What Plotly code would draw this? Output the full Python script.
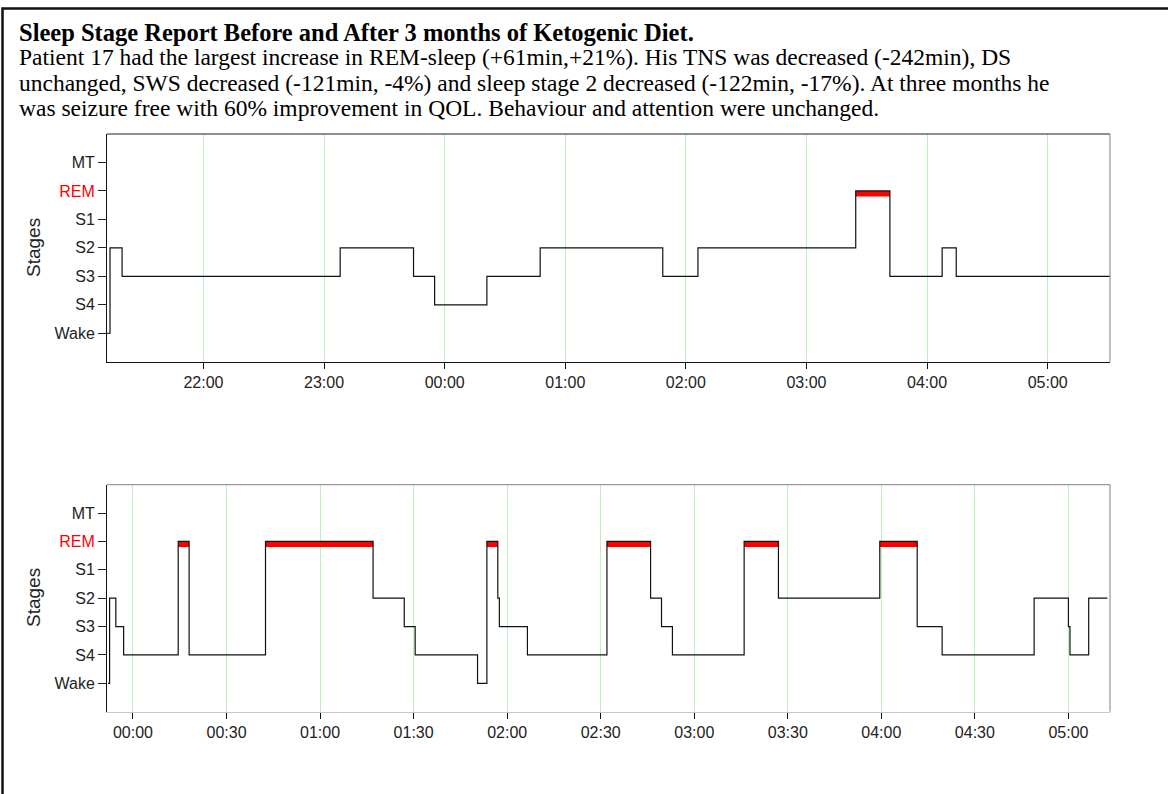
import plotly.graph_objects as go

# ---------------- data ----------------
stage_names = ["Wake", "S4", "S3", "S2", "S1", "REM", "MT"]

before_times = ["21:12:00", "21:13:30", "21:19:30", "23:08:00", "23:44:30", "23:55:00",
                "00:21:00", "00:47:30", "01:48:30", "02:06:00", "03:24:30", "03:41:30",
                "04:07:30", "04:14:30"]
before_stages = ["Wake", "S2", "S3", "S2", "S3", "S4",
                 "S3", "S2", "S3", "S2", "REM", "S3",
                 "S2", "S3"]
before_end = "05:31:00"
before_range = ["21:12:00", "05:31:00"]
before_ticks = ["22:00", "23:00", "00:00", "01:00", "02:00", "03:00", "04:00", "05:00"]

after_times = ["23:52:00", "23:52:30", "23:54:30", "23:57:00", "00:14:30", "00:18:00",
               "00:42:30", "01:17:00", "01:27:00", "01:30:30", "01:50:30", "01:53:30",
               "01:57:00", "01:57:30", "02:06:30", "02:32:00", "02:46:00", "02:49:30",
               "02:53:00", "03:16:00", "03:27:00", "03:59:30", "04:11:30", "04:19:30",
               "04:49:00", "05:00:00", "05:00:30", "05:06:30"]
after_stages = ["Wake", "S2", "S3", "S4", "REM", "S4",
                "REM", "S2", "S3", "S4", "Wake", "REM",
                "S2", "S3", "S4", "REM", "S2", "S3",
                "S4", "REM", "S2", "REM", "S3", "S4",
                "S2", "S3", "S4", "S2"]
after_end = "05:12:30"
after_range = ["23:51:40", "05:13:20"]
after_ticks = ["00:00", "00:30", "01:00", "01:30", "02:00", "02:30", "03:00",
               "03:30", "04:00", "04:30", "05:00"]

title_lines = [
    "<b>Sleep Stage Report Before and After 3 months of Ketogenic Diet.</b>",
    "Patient 17 had the largest increase in REM-sleep (+61min,+21%). His TNS was decreased (-242min), DS",
    "unchanged, SWS decreased (-121min, -4%) and sleep stage 2 decreased (-122min, -17%). At three months he",
    "was seizure free with 60% improvement in QOL. Behaviour and attention were unchanged.",
]


# ---------------- helpers ----------------
def ts(t):
    day = "2000-01-01" if int(t[:2]) >= 12 else "2000-01-02"
    return f"{day} {t}"


stage_val = {s: i for i, s in enumerate(stage_names)}

W, H = 1168, 794
fig = go.Figure()


def add_hypno(times, stages, end, xa, ya):
    xs = [ts(t) for t in times] + [ts(end)]
    ys = [stage_val[s] for s in stages] + [stage_val[stages[-1]]]
    # REM bars
    rx, ry = [], []
    for i, s in enumerate(stages):
        if s == "REM":
            rx += [xs[i], xs[i + 1], None]
            ry += [stage_val["REM"] - 0.1, stage_val["REM"] - 0.1, None]
    fig.add_trace(go.Scatter(x=rx, y=ry, mode="lines", xaxis=xa, yaxis=ya,
                             line=dict(color="#ff0000", width=5.5), showlegend=False,
                             hoverinfo="skip"))
    fig.add_trace(go.Scatter(x=xs, y=ys, mode="lines", xaxis=xa, yaxis=ya,
                             line=dict(color="#111111", width=1.2, shape="hv"),
                             showlegend=False))


add_hypno(before_times, before_stages, before_end, "x", "y")
add_hypno(after_times, after_stages, after_end, "x2", "y2")

ticktext_y = [('<span style="color:#ff0000">%s</span>' % s) if s == "REM" else s
              for s in stage_names]
tick_font = dict(family="Liberation Sans, Arial", size=16, color="#222222")


def xaxis(rng, ticks, linecolor):
    return dict(
        type="date", range=[ts(rng[0]), ts(rng[1])], domain=[107 / W, 1110 / W],
        tickvals=[ts(t) for t in ticks], ticktext=ticks,
        showgrid=True, gridcolor="rgb(190,240,190)", gridwidth=1,
        showline=True, linecolor=linecolor, linewidth=1,
        ticks="outside", ticklen=6, tickcolor="#111111",
        tickfont=tick_font, zeroline=False,
    )


def yaxis(anchor, dom):
    return dict(
        range=[-1, 7], domain=dom, anchor=anchor,
        tickvals=list(range(len(stage_names))), ticktext=ticktext_y,
        showgrid=False, zeroline=False, showline=True, linecolor="#111111", linewidth=1,
        ticks="outside", ticklen=8, tickcolor="#222222", tickfont=tick_font,
    )


top_dom = [1 - 361.7 / H, 1 - 134 / H]
bot_dom = [1 - 711.7 / H, 1 - 484.7 / H]

fig.update_layout(
    width=W, height=H, margin=dict(l=0, r=0, t=0, b=0),
    paper_bgcolor="white", plot_bgcolor="white",
    xaxis=dict(**xaxis(before_range, before_ticks, "#111111"), anchor="y"),
    yaxis=yaxis("x", top_dom),
    xaxis2=dict(**xaxis(after_range, after_ticks, "#c8c8c8"), anchor="y2"),
    yaxis2=yaxis("x2", bot_dom),
)

shapes = [
    # outer frame
    dict(type="rect", xref="paper", yref="paper", x0=2.5 / W, x1=1.02, y0=-0.02,
         y1=1 - 8.5 / H, line=dict(color="#111111", width=2.5), layer="below"),
    # top plot: top and right border
    dict(type="line", xref="x domain", yref="y domain", x0=0, x1=1, y0=1, y1=1,
         line=dict(color="#222222", width=1)),
    dict(type="line", xref="x domain", yref="y domain", x0=1, x1=1, y0=0, y1=1,
         line=dict(color="#808080", width=1)),
    # bottom plot: top and right border
    dict(type="line", xref="x2 domain", yref="y2 domain", x0=0, x1=1, y0=1, y1=1,
         line=dict(color="#808080", width=1)),
    dict(type="line", xref="x2 domain", yref="y2 domain", x0=1, x1=1, y0=0, y1=1,
         line=dict(color="#808080", width=1)),
]
fig.update_layout(shapes=shapes)

annos = []
line_y = [33, 57, 83, 108]
line_size = [24.5, 23.5, 23.5, 23.5]
for txt, yy, sz in zip(title_lines, line_y, line_size):
    annos.append(dict(text=txt, xref="paper", yref="paper", x=17 / W, y=1 - yy / H,
                      xanchor="left", yanchor="middle", showarrow=False,
                      font=dict(family="Liberation Serif, Times New Roman", size=sz,
                                color="#000000")))
for yc in [248, 598]:
    annos.append(dict(text="Stages", xref="paper", yref="paper", x=33 / W, y=1 - yc / H,
                      xanchor="center", yanchor="middle", showarrow=False, textangle=-90,
                      font=dict(family="Liberation Sans, Arial", size=19, color="#222222")))
fig.update_layout(annotations=annos)

fig.write_html("out.html", config={"displayModeBar": False},
               post_script="document.body.style.margin='0';document.body.style.overflow='hidden';")
